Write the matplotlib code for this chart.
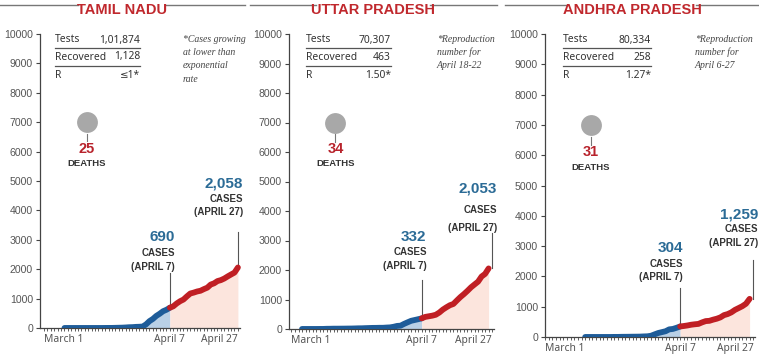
import numpy as np
import matplotlib
matplotlib.use('Agg')
import matplotlib.pyplot as plt

# Datos: casos acumulados por dia (dia 0 = 1 de marzo, dia 37 = 7 de abril, dia 57 = 27 de abril)
states = ['TAMIL NADU', 'UTTAR PRADESH', 'ANDHRA PRADESH']
start_days = [6, 3, 11]

tn_cases = [1, 1, 1, 1, 1, 1, 1, 1, 1, 1,
            1, 1, 2, 3, 3, 6, 9,
            12, 18, 26, 29, 38, 42, 50,
            124, 234, 309, 411, 485, 571, 621, 690,
            738, 834, 911, 969, 1075, 1173, 1204, 1242, 1267, 1323,
            1372, 1477, 1520, 1596, 1629, 1683, 1755, 1821, 1885, 2058]
up_cases = [1, 1, 1, 1, 1, 2, 2, 7, 8, 11,
            11, 12, 13, 15, 16, 19, 23, 24, 29, 33,
            37, 38, 41, 41, 49, 55, 75, 104, 113, 174,
            227, 278, 305, 332,
            361, 410, 431, 452, 483, 558, 657, 735, 805, 849,
            969, 1084, 1184, 1294, 1412, 1509, 1604, 1778, 1868, 2053]
ap_cases = [1, 1, 1, 1, 1, 1, 1, 1, 3, 3,
            6, 7, 8, 10, 11, 13, 19, 23, 40,
            87, 132, 161, 190, 252, 266, 304,
            348, 363, 381, 405, 420, 432, 483, 525, 534, 572,
            603, 647, 722, 757, 813, 895, 955, 1016, 1097, 1259]
cases = [tn_cases, up_cases, ap_cases]

deaths = ['25', '34', '31']
cases_apr7 = ['690', '332', '304']
cases_apr27 = ['2,058', '2,053', '1,259']
tests = ['1,01,874', '70,307', '80,334']
recovered = ['1,128', '463', '258']
r_values = ['\u22641*', '1.50*', '1.27*']
notes = [['*Cases growing', 'at lower than', 'exponential', 'rate'],
         ['*Reproduction', 'number for', 'April 18-22'],
         ['*Reproduction', 'number for', 'April 6-27']]

x_ticks = [0, 37, 57]
x_labels = ['March 1', 'April 7', 'April 27']

# Maquetacion (pixeles en la figura de 759x357)
W, H = 759, 357
axes_box = [(40, 243, 34, 328), (289, 496, 34, 329), (545, 758, 34, 337)]
xlims = [(-1.2, 58.5), (-0.7, 58.1), (0, 58.3)]
title_cx = [122, 373, 632]
title_gap = [(78, 166), (316, 430), (568, 696)]
panel_span = [(0, 245), (250, 497), (505, 759)]
table_x = [(55, 140), (306, 391), (563, 651)]
note_x = [183, 437, 695]
apr7_txt = [(38.5, 3100, 2550, 2070, 1870), (38.4, 3120, 2610, 2140, 1660), (37.8, 2940, 2410, 1980, 1620)]
apr27_txt = [(58.5, 4900, 4390, 3950, 3270), (58.4, 4750, 4030, 3420, 3250), (58.4, 4030, 3560, 3100, 2540)]

BLUE = '#1e5c99'
BLUE_TXT = '#2b6b96'
RED = '#c01f24'
RED_TXT = '#b8232c'
GRAY = '#555555'
NARROW = dict(family=['Noto Sans', 'DejaVu Sans'])


def fx(px):
    return px / W


def fy(py):
    return 1 - py / H


fig = plt.figure(figsize=(W / 100, H / 100), dpi=100)
fig.patch.set_facecolor('white')

for i in range(3):
    l, r, t, b = axes_box[i]
    ax = fig.add_axes([fx(l), fy(b), (r - l) / W, (b - t) / H])
    ax.set_facecolor('none')

    days = np.arange(start_days[i], start_days[i] + len(cases[i]))
    vals = np.array(cases[i])
    pre = days <= 37
    post = days >= 37

    ax.fill_between(days[pre], vals[pre], color='#b9d0e6', lw=0, zorder=1)
    ax.fill_between(days[post], vals[post], color='#fce5dd', lw=0, zorder=1)
    ax.plot(days[pre], vals[pre], color=BLUE, lw=4.2, solid_capstyle='round',
            solid_joinstyle='round', zorder=3)
    ax.plot(days[post], vals[post], color=RED, lw=4.2, solid_capstyle='round',
            solid_joinstyle='round', zorder=3)

    ax.set_xlim(*xlims[i])
    ax.set_ylim(0, 10000)
    ax.set_yticks(np.arange(0, 10001, 1000))
    ax.set_yticklabels([str(v) for v in range(0, 10001, 1000)],
                       fontsize=7.6, color=GRAY, family='Liberation Sans')
    ax.set_xticks(x_ticks)
    ax.set_xticklabels(x_labels, fontsize=7.4, color=GRAY, **NARROW)
    for lab, ha in zip(ax.get_xticklabels(), ['left', 'center', 'right']):
        lab.set_ha(ha)
    ax.set_xticks(np.arange(0, 58), minor=True)
    ax.tick_params(axis='y', length=3, width=0.8, color='#444444', pad=2)
    ax.tick_params(axis='x', which='both', length=2.5, width=0.6,
                   color='#444444', pad=2)
    for s in ['top', 'right']:
        ax.spines[s].set_visible(False)
    for s in ['left', 'bottom']:
        ax.spines[s].set_color('#444444')
        ax.spines[s].set_linewidth(0.9)
    ax.spines['bottom'].set_bounds(xlims[i][0], 57.5)

    # Muertes
    ax.plot([12.5], [7000], 'o', ms=15, color='#a8a8a8', mec='none', zorder=4)
    ax.plot([12.5, 12.5], [6600, 6350], color='#777777', lw=0.8, zorder=4)
    ax.text(12.5, 6100, deaths[i], color=RED_TXT, fontsize=10.5, weight='bold',
            ha='center', va='center', family='Liberation Sans')
    ax.text(12.5, 5600, 'DEATHS', color='#333333', fontsize=6.8, weight='bold',
            ha='center', va='center', family='Liberation Sans')

    # Casos 7 de abril
    xr, y1, y2, y3, yl = apr7_txt[i]
    ax.text(xr, y1, cases_apr7[i], color=BLUE_TXT, fontsize=11, weight='bold',
            ha='right', va='center', family='Liberation Sans')
    ax.text(xr, y2, 'CASES', color='#333333', fontsize=7, weight='bold',
            ha='right', va='center', family='Liberation Sans')
    ax.text(xr, y3, '(APRIL 7)', color='#333333', fontsize=7, weight='bold',
            ha='right', va='center', family='Liberation Sans')
    ax.plot([37, 37], [yl, vals[days == 37][0]], color='#555555', lw=0.8, zorder=2)

    # Casos 27 de abril
    xr, y1, y2, y3, yl = apr27_txt[i]
    ax.text(xr, y1, cases_apr27[i], color=BLUE_TXT, fontsize=11, weight='bold',
            ha='right', va='center', family='Liberation Sans', clip_on=False)
    ax.text(xr, y2, 'CASES', color='#333333', fontsize=7, weight='bold',
            ha='right', va='center', family='Liberation Sans', clip_on=False)
    ax.text(xr, y3, '(APRIL 27)', color='#333333', fontsize=7, weight='bold',
            ha='right', va='center', family='Liberation Sans', clip_on=False)
    ax.plot([57, 57], [yl, vals[-1]], color='#555555', lw=0.8, zorder=2)

    # Titulo con lineas
    fig.text(fx(title_cx[i]), fy(14), states[i], color='#c0282d', fontsize=10.5,
             weight='bold', ha='center', va='baseline', family='Liberation Sans')
    g0, g1 = title_gap[i]
    p0, p1 = panel_span[i]
    fig.add_artist(plt.Line2D([fx(p0), fx(g0)], [fy(5), fy(5)], color='#777777', lw=1))
    fig.add_artist(plt.Line2D([fx(g1), fx(p1)], [fy(5), fy(5)], color='#777777', lw=1))

    # Tabla
    tl, tr = table_x[i]
    rows = [('Tests', tests[i]), ('Recovered', recovered[i]), ('R', r_values[i])]
    for k, (name, val) in enumerate(rows):
        yy = [40, 57, 75][k]
        fig.text(fx(tl), fy(yy), name, fontsize=7.4, color='#333333',
                 ha='left', va='center', **NARROW)
        fig.text(fx(tr), fy(yy), val, fontsize=7.4, color='#333333',
                 ha='right', va='center', **NARROW)
    for yy in [48, 66]:
        fig.add_artist(plt.Line2D([fx(tl), fx(tr)], [fy(yy), fy(yy)],
                                  color='#555555', lw=0.9))

    # Notas
    for k, line in enumerate(notes[i]):
        fig.text(fx(note_x[i]), fy(39 + k * 13.5), line, fontsize=7,
                 color='#444444', style='italic', ha='left', va='center',
                 family='Liberation Serif')

plt.savefig('out.png', dpi=100)
plt.close()
